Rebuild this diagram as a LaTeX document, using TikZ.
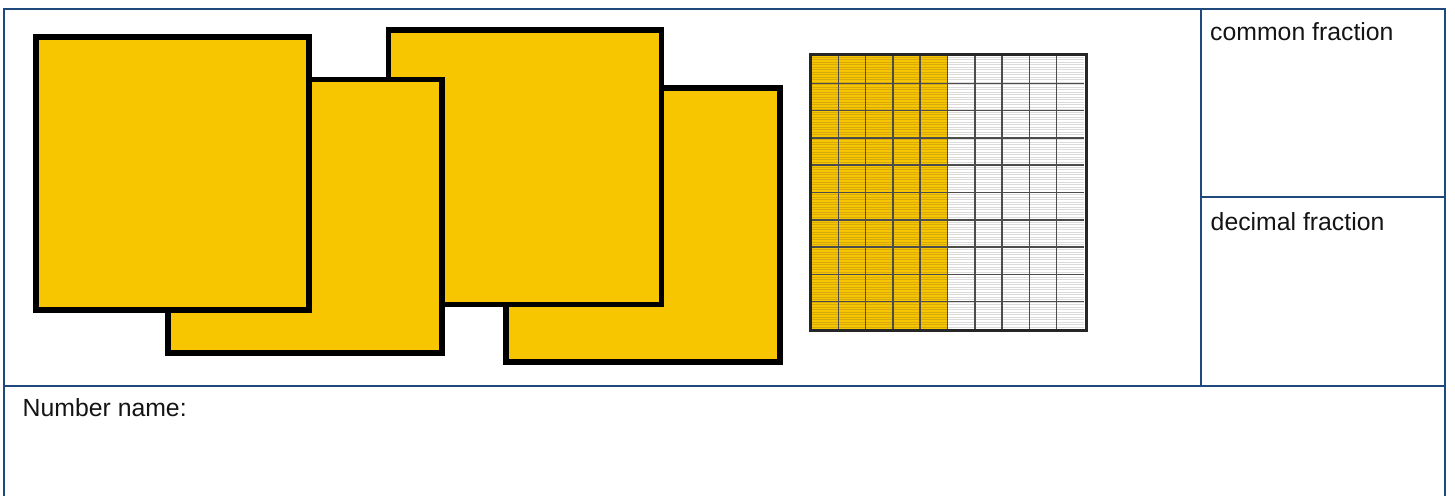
\documentclass[tikz,border=0pt]{standalone}
\usepackage{fontspec}
\setmainfont{Liberation Sans}
\begin{document}
\begin{tikzpicture}[x=1pt,y=-1pt,
  tline/.style={draw=tblue,line width=2.3pt},
  sqbox/.style={draw=black,line width=5.8pt,fill=sqyellow},
  gline/.style={draw=black!70,line width=1.5pt},
  hatchy/.style={draw=hatchyellow,line width=0.6pt},
  hatchw/.style={draw=black!14,line width=0.6pt},
  lbl/.style={anchor=base west,inner sep=0pt,text=black!92,font=\fontsize{24.8}{29}\selectfont}]
\definecolor{tblue}{RGB}{31,73,125}
\definecolor{sqyellow}{RGB}{247,198,0}
\definecolor{hatchyellow}{RGB}{214,170,10}
\useasboundingbox (0,0) rectangle (1455,495);
% table
\draw[tline] (4,500) -- (4,9) -- (1445,9) -- (1445,500);
\draw[tline] (4,386) -- (1445,386);
\draw[tline] (1201,9) -- (1201,386);
\draw[tline] (1201,197) -- (1445,197);
% squares (back to front)
\draw[sqbox] (506,88) rectangle (780,362);
\draw[sqbox] (388.5,30) rectangle (661.5,304.5);
\draw[sqbox] (168,79.5) rectangle (442,353);
\draw[sqbox] (36,37) rectangle (309,310);
% hundred grid
\fill[sqyellow] (811,56) rectangle (947.5,329);
\fill[white] (947.5,56) rectangle (1084,329);
\foreach \i in {0,...,108} {
  \draw[hatchy] (811,{57+\i*2.5}) -- (947.5,{57+\i*2.5});
  \draw[hatchw] (947.5,{57+\i*2.5}) -- (1084,{57+\i*2.5});
}
\foreach \k in {1,...,9} {
  \draw[gline] ({811+\k*27.3},56) -- ({811+\k*27.3},329);
  \draw[gline] (811,{56+\k*27.3}) -- (1084,{56+\k*27.3});
}
\draw[line width=3pt,draw=black!85] (810,54.5) rectangle (1086.5,330.5);
% labels
\node[lbl] (cf) at (1210,41) {common fraction};
\node[lbl] (df) at (1210.5,230) {decimal fraction};
\node[lbl] (nn) at (22.5,416.5) {Number name:};
\end{tikzpicture}
\end{document}
